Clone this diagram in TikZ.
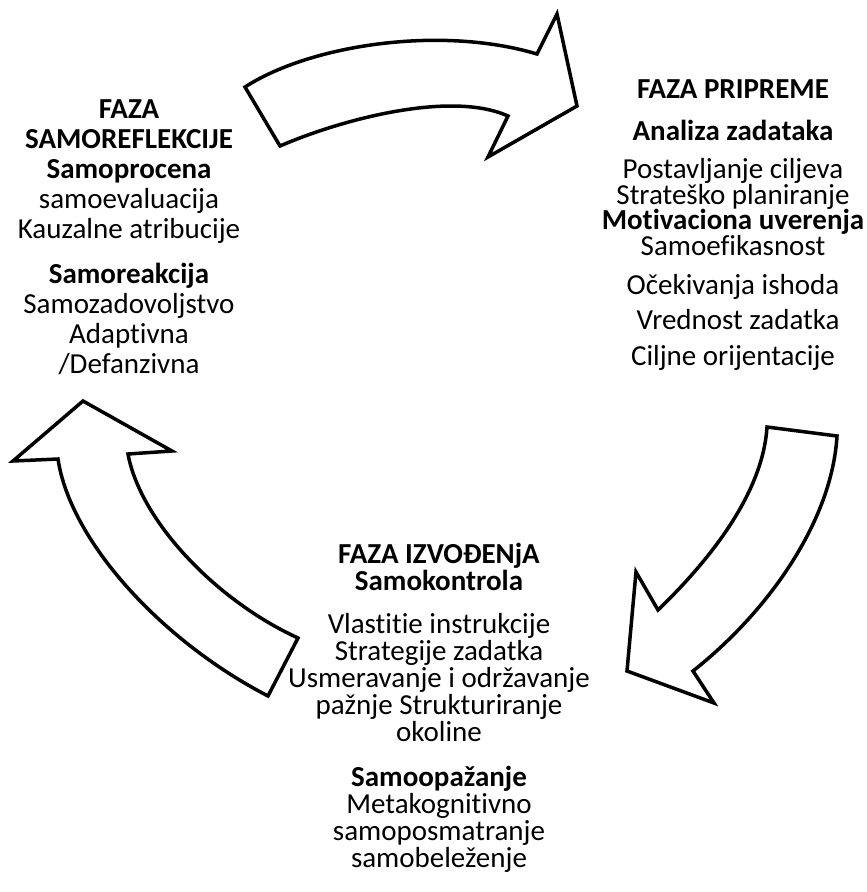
\documentclass[tikz,border=0pt]{standalone}
\usepackage{fontspec}
\setmainfont[Ligatures=NoCommon]{Carlito}
% text at 29pt with a fixed line pitch, never widened by tall lines
\newcommand{\phasefont}[1]{\fontsize{29}{#1}\selectfont\setlength{\lineskiplimit}{-100pt}\relax}
\begin{document}
\begin{tikzpicture}[x=1pt,y=-1pt,
  phasearrow/.style={draw=black, fill=white, line width=3.5pt, line join=miter},
  phasetext/.style={align=center, inner sep=0pt, anchor=north}
]
\useasboundingbox (0,0) rectangle (867,892);

% curved block arrows of the cycle
\draw[phasearrow] (245,87) .. controls (310,45) and (440,25) .. (537,54)
  -- (557,14) -- (577,106) -- (488,157) -- (508,116)
  .. controls (450,90) and (340,120) .. (280,146) -- cycle;
\draw[phasearrow] (767,427) -- (837,436) .. controls (832,520) and (770,610) .. (693,671)
  -- (714,703) -- (627,671) -- (636,572) -- (658,610)
  .. controls (715,555) and (763,490) .. (767,427) -- cycle;
\draw[phasearrow] (83,401) -- (172,451) -- (128,454)
  .. controls (140,520) and (215,600) .. (298,638) -- (268,696)
  .. controls (160,640) and (70,540) .. (58,459) -- (13,461) -- cycle;

% phase descriptions
\node[phasetext, font={\phasefont{30}}] (reflect) at (129,99)
  {\textbf{FAZA}\\\textbf{SAMOREFLEKCIJE}\\\textbf{Samoprocena}\\samoevaluacija\\Kauzalne atribucije\\[15pt]
   \textbf{Samoreakcija}\\Samozadovoljstvo\\Adaptivna\\/Defanzivna};
\node[phasetext, font={\phasefont{25.7}}] (prepare) at (733,79)
  {\textbf{FAZA PRIPREME}\\[17pt]\textbf{Analiza zadataka}\\[12pt]
   Postavljanje ciljeva\\Strateško planiranje\\\textbf{Motivaciona uverenja}\\Samoefikasnost\\[13pt]
   Očekivanja ishoda\\[10pt]\hspace*{10pt}Vrednost zadatka\\[10pt]Ciljne orijentacije};
\node[phasetext, font={\phasefont{27}}] (perform) at (439,543)
  {\textbf{FAZA IZVOĐENjA}\\\textbf{Samokontrola}\\[16pt]
   Vlastitie instrukcije\\Strategije zadatka\\Usmeravanje i održavanje\\pažnje Strukturiranje\\okoline\\[18pt]
   \textbf{Samoopažanje}\\Metakognitivno\\samoposmatranje\\samobeleženje};
\end{tikzpicture}
\end{document}
